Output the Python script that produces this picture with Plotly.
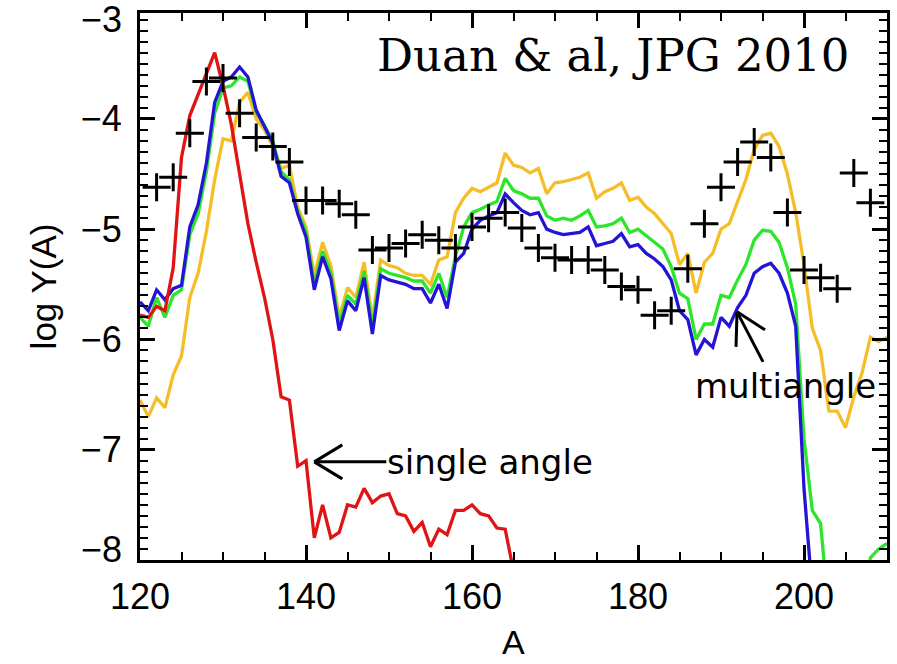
import plotly.graph_objects as go

# ---------------- data ----------------
A_red = list(range(120, 166))
red = [-5.78, -5.80, -5.70, -5.74, -5.35, -4.35, -3.97, -3.78, -3.58, -3.40,
       -3.70, -4.05, -4.50, -4.95, -5.30, -5.62, -6.00, -6.52, -6.55, -7.15,
       -7.10, -7.80, -7.50, -7.80, -7.75, -7.50, -7.52, -7.35, -7.48, -7.42,
       -7.40, -7.58, -7.60, -7.74, -7.66, -7.88, -7.72, -7.77, -7.55, -7.55,
       -7.50, -7.58, -7.60, -7.71, -7.72, -8.10]

A_yellow = list(range(120, 211))
yellow = [-6.55, -6.70, -6.53, -6.62, -6.32, -6.15, -5.62, -5.40, -5.02, -4.55,
          -4.18, -4.20, -3.85, -3.76, -4.00, -4.10, -4.25, -4.45, -4.42, -4.80,
          -4.98, -5.42, -5.12, -5.33, -5.80, -5.53, -5.62, -5.30, -5.82, -5.28,
          -5.33, -5.35, -5.40, -5.42, -5.42, -5.50, -5.28, -5.25, -4.85, -4.72,
          -4.63, -4.66, -4.62, -4.58, -4.31, -4.42, -4.44, -4.49, -4.45, -4.68,
          -4.58, -4.57, -4.55, -4.53, -4.49, -4.72, -4.66, -4.63, -4.58, -4.74,
          -4.71, -4.80, -4.86, -4.95, -5.04, -5.32, -5.22, -5.58, -5.30, -5.22,
          -5.00, -4.95, -4.74, -4.55, -4.28, -4.15, -4.13, -4.25, -4.50, -4.85,
          -5.32, -5.90, -6.10, -6.65, -6.65, -6.80, -6.52, -6.30, -5.98, -6.02, -5.98]

A_green = list(range(120, 211))
green = [-5.80, -5.88, -5.62, -5.80, -5.60, -5.55, -5.05, -4.86, -4.48, -3.95,
         -3.72, -3.70, -3.62, -3.66, -3.94, -4.06, -4.20, -4.48, -4.55, -4.84,
         -5.02, -5.50, -5.20, -5.40, -5.86, -5.60, -5.68, -5.38, -5.88, -5.36,
         -5.40, -5.42, -5.44, -5.47, -5.47, -5.58, -5.40, -5.62, -5.25, -4.98,
         -4.85, -4.82, -4.78, -4.75, -4.54, -4.65, -4.68, -4.72, -4.72, -4.88,
         -4.92, -4.90, -4.92, -4.88, -4.83, -4.98, -4.97, -4.95, -4.90, -5.03,
         -5.00, -5.06, -5.12, -5.18, -5.34, -5.58, -5.63, -6.00, -5.86, -5.86,
         -5.60, -5.62, -5.46, -5.32, -5.10, -5.01, -5.02, -5.12, -5.35, -5.68,
         -6.90, -7.55, -7.67, -8.50, -8.60, -8.60, -8.60, -8.50, -7.98, -7.90, -7.85]

A_blue = list(range(120, 202))
blue = [-5.66, -5.74, -5.55, -5.64, -5.54, -5.51, -4.98, -4.78, -4.40, -3.85,
        -3.66, -3.62, -3.53, -3.62, -3.92, -4.07, -4.22, -4.52, -4.58, -4.86,
        -5.07, -5.55, -5.25, -5.45, -5.92, -5.65, -5.74, -5.44, -5.95, -5.42,
        -5.46, -5.48, -5.50, -5.54, -5.54, -5.67, -5.50, -5.72, -5.30, -5.22,
        -5.00, -4.92, -4.88, -4.85, -4.68, -4.76, -4.83, -4.87, -4.85, -5.00,
        -5.03, -5.05, -5.04, -5.03, -4.98, -5.15, -5.13, -5.11, -5.04, -5.16,
        -5.14, -5.22, -5.27, -5.34, -5.46, -5.74, -5.82, -6.14, -6.00, -6.07,
        -5.80, -5.88, -5.71, -5.60, -5.40, -5.34, -5.31, -5.40, -5.58, -5.88,
        -7.35, -8.30]

A_exp = list(range(122, 209, 2))
exp = [-4.62, -4.53, -4.13, -3.66, -3.63, -3.95, -4.17, -4.25, -4.39, -4.74,
       -4.74, -4.77, -4.87, -5.19, -5.17, -5.13, -5.05, -5.10, -5.17, -4.98,
       -4.90, -4.85, -4.99, -5.17, -5.26, -5.28, -5.28, -5.37, -5.52, -5.55,
       -5.78, -5.74, -5.36, -4.95, -4.62, -4.39, -4.21, -4.35, -4.85, -5.37,
       -5.44, -5.54, -4.49, -4.76]

x_range = [120, 210]
y_range = [-8.0, -3.04]

# ---------------- figure ----------------
fig = go.Figure()
LW = 3.3
fig.add_trace(go.Scatter(x=A_yellow, y=yellow, mode="lines",
                         line=dict(color="#F5BE28", width=LW)))
fig.add_trace(go.Scatter(x=A_green, y=green, mode="lines",
                         line=dict(color="#2BE62B", width=LW)))
fig.add_trace(go.Scatter(x=A_blue, y=blue, mode="lines",
                         line=dict(color="#2414D6", width=LW)))
fig.add_trace(go.Scatter(x=A_red, y=red, mode="lines",
                         line=dict(color="#E01414", width=LW)))
fig.add_trace(go.Scatter(x=A_exp, y=exp, mode="markers",
                         marker=dict(symbol="cross-thin", size=20,
                                     line=dict(color="black", width=3))))

tick_font = dict(family="Liberation Sans, Arial, sans-serif", size=36, color="black")
ann_font = dict(family="DejaVu Sans, sans-serif", size=34, color="black")

fig.update_layout(
    width=897, height=664,
    margin=dict(l=140, r=10, t=13, b=104),
    paper_bgcolor="white", plot_bgcolor="white",
    showlegend=False,
    xaxis=dict(range=x_range, tickmode="linear", tick0=120, dtick=20,
               ticks="inside", ticklen=15,
               tickwidth=2.5, tickcolor="black", mirror="allticks",
               showline=True, linewidth=3, linecolor="black",
               showgrid=False, zeroline=False, tickfont=tick_font,
               ticklabelstandoff=3, automargin=False,
               minor=dict(dtick=5, tick0=120, ticks="inside", ticklen=8,
                          tickwidth=2, tickcolor="black", showgrid=False)),
    yaxis=dict(range=y_range, tickmode="linear", tick0=-8, dtick=1,
               ticks="inside", ticklen=15,
               tickwidth=2.5, tickcolor="black", mirror="allticks",
               showline=True, linewidth=3, linecolor="black",
               showgrid=False, zeroline=False, tickfont=tick_font,
               ticklabelstandoff=8, automargin=False,
               labelalias={"\u22128": " "},
               minor=dict(dtick=0.1, tick0=-8, ticks="inside", ticklen=8,
                          tickwidth=2, tickcolor="black", showgrid=False),
               title=dict(text="log Y(A)", font=dict(family="Liberation Sans, Arial, sans-serif",
                                                      size=35, color="black"), standoff=14)),
)

# x-axis title (kept fully inside the page)
fig.add_annotation(text="A", xref="paper", yref="paper", x=0.5, y=0,
                   xanchor="center", yanchor="bottom", yshift=-103,
                   showarrow=False,
                   font=dict(family="Liberation Sans, Arial, sans-serif", size=34, color="black"))

# end labels of the y axis (drawn slightly inside, as in the original)
fig.add_annotation(text="\u22123", xref="paper", yref="paper", x=0, y=1,
                   xanchor="right", yanchor="middle", xshift=-16, yshift=-6,
                   showarrow=False, font=tick_font)
fig.add_annotation(text="\u22128", xref="paper", yref="paper", x=0, y=0,
                   xanchor="right", yanchor="middle", xshift=-16, yshift=11,
                   showarrow=False, font=tick_font)

# citation
fig.add_annotation(text="Duan & al, JPG 2010", xref="paper", yref="paper",
                   x=0.952, y=0.923, xanchor="right", yanchor="middle",
                   showarrow=False,
                   font=dict(family="DejaVu Serif, serif", size=45, color="black"))

# labels
fig.add_annotation(text="single angle", x=149.5, y=-7.11, xanchor="left",
                   yanchor="middle", showarrow=False, font=ann_font)
fig.add_annotation(text="multiangle", x=197.8, y=-6.42, xanchor="center",
                   yanchor="middle", showarrow=False, font=ann_font)


def open_arrow(tip_x, tip_y, pieces):
    for (dx, dy) in pieces:
        fig.add_shape(type="line", xref="x", yref="y",
                      xsizemode="pixel", ysizemode="pixel",
                      xanchor=tip_x, yanchor=tip_y,
                      x0=0, y0=0, x1=dx, y1=dy,
                      line=dict(color="black", width=3))


# arrow to the single-angle curve: shaft + two head strokes (pixel offsets)
open_arrow(141.0, -7.11, [(72, 0), (28, 17), (28, -17)])
# arrow to the multiangle curve
open_arrow(191.93, -5.75, [(26, -50), (-1, -35), (28, -18)])

fig.write_html("out.html")
